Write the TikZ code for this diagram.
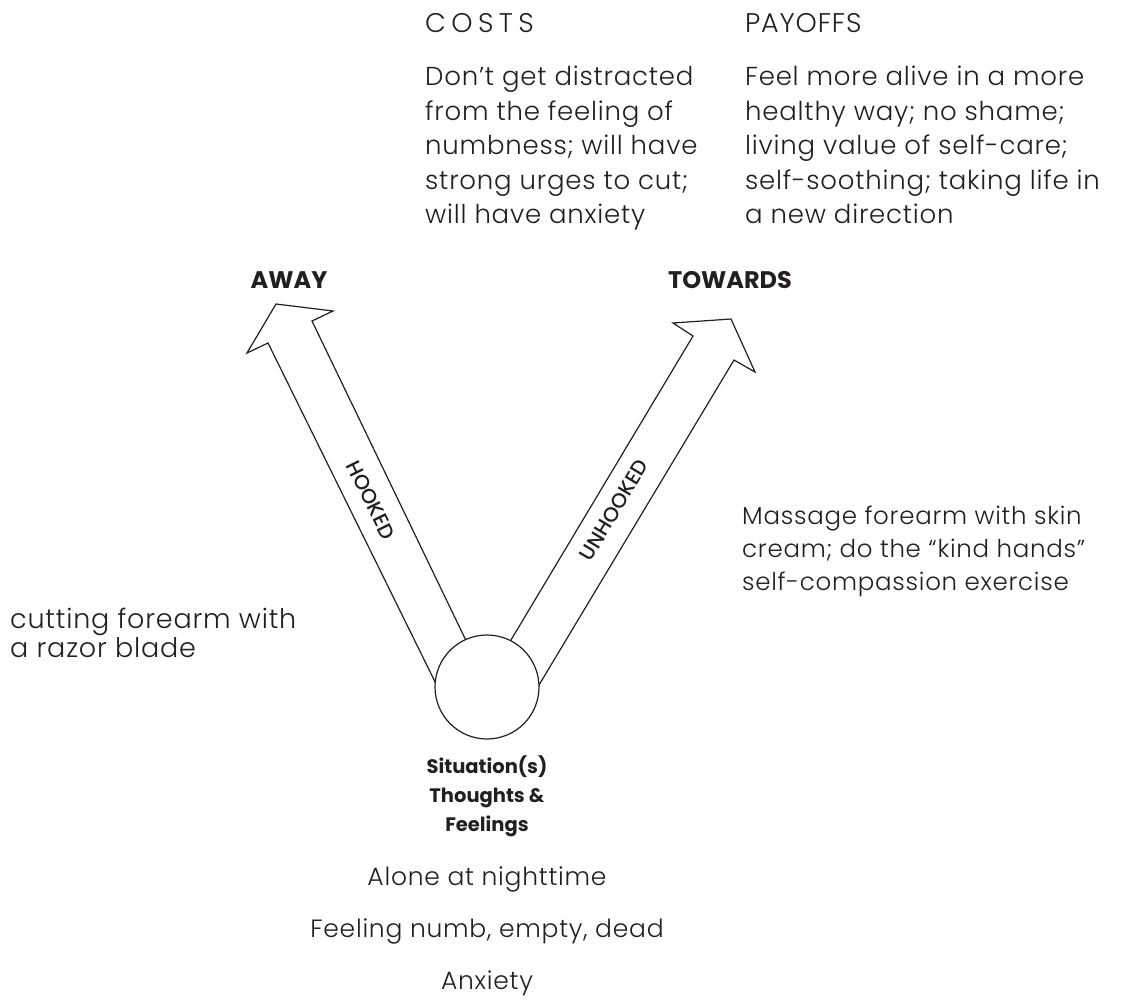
\documentclass[tikz,border=0pt]{standalone}
\usepackage{fontspec}
\newfontfamily\handfont{Poppins Light}[LetterSpace=3]
\newfontfamily\handcapsfont{Poppins Light}[LetterSpace=20]
\newfontfamily\headfont{Poppins}
\newfontfamily\bandfont{Poppins Medium}
\definecolor{ink}{HTML}{231F20}
\begin{document}
\begin{tikzpicture}[x=1pt,y=-1pt,
  hand/.style={font=\handfont\fontsize{26}{34.5}\selectfont, text=ink, inner sep=0pt, align=left},
  handm/.style={font=\handfont\fontsize{24.5}{33}\selectfont, text=ink, inner sep=0pt, align=left},
  handc/.style={font=\handfont\fontsize{25}{52}\selectfont, text=ink, inner sep=0pt, align=center},
  head/.style={font=\headfont\bfseries\fontsize{24}{28}\selectfont, text=ink, inner sep=0pt},
  band/.style={font=\bandfont\fontsize{20.5}{22}\selectfont, text=ink, inner sep=0pt},
  situ/.style={font=\headfont\bfseries\fontsize{19.5}{29}\selectfont, text=ink, inner sep=0pt, align=center},
  arrowline/.style={draw=ink, line width=1.2pt, line join=miter},
]
\useasboundingbox (0,0) rectangle (1148,1000);

% arrows
\draw[arrowline] (444,700) -- (268,343) -- (247,353) -- (276,304) -- (333,311) -- (312,321) -- (485,680);
\draw[arrowline] (496,665) -- (693,336) -- (673,323) -- (731,319) -- (755,372) -- (734,360) -- (530,700);

% circle
\node[draw=ink, circle, fill=white, minimum size=104pt, inner sep=0pt, line width=1.2pt] (sit) at (487,687) {};

% labels on arrows
\node[band, rotate=-63.8] (hooked) at (371,500) {HOOKED};
\node[band, rotate=59] (unhooked) at (614,510) {UNHOOKED};

\node[head] (away) at (289,280) {AWAY};
\node[head] (towards) at (730,280) {TOWARDS};

% top texts
\node[hand, anchor=base west, font=\handcapsfont\fontsize{27}{27}\selectfont] (costs) at (425,33) {COSTS};
\node[hand, anchor=north west] (costsb) at (425,66) {Don’t get distracted\\from the feeling of\\numbness; will have\\strong urges to cut;\\will have anxiety};
\node[hand, anchor=base west, font=\handfont\fontsize{27}{27}\selectfont] (payoffs) at (745,33) {PAYOFFS};
\node[hand, anchor=north west] (payoffsb) at (745,66) {Feel more alive in a more\\healthy way; no shame;\\living value of self-care;\\self-soothing; taking life in\\a new direction};

% side texts
\node[hand, anchor=north west, font=\handfont\fontsize{27}{29}\selectfont] (away txt) at (10,608) {cutting forearm with\\a razor blade};
\node[handm, anchor=north west] (tow txt) at (742,506) {Massage forearm with skin\\cream; do the “kind hands”\\self-compassion exercise};

% bottom
\node[situ, anchor=north] (situlbl) at (487,755) {Situation(s)\\Thoughts \&\\Feelings};
\node[handc, anchor=north] (situtxt) at (487,866) {Alone at nighttime\\Feeling numb, empty, dead\\Anxiety};
\end{tikzpicture}
\end{document}
